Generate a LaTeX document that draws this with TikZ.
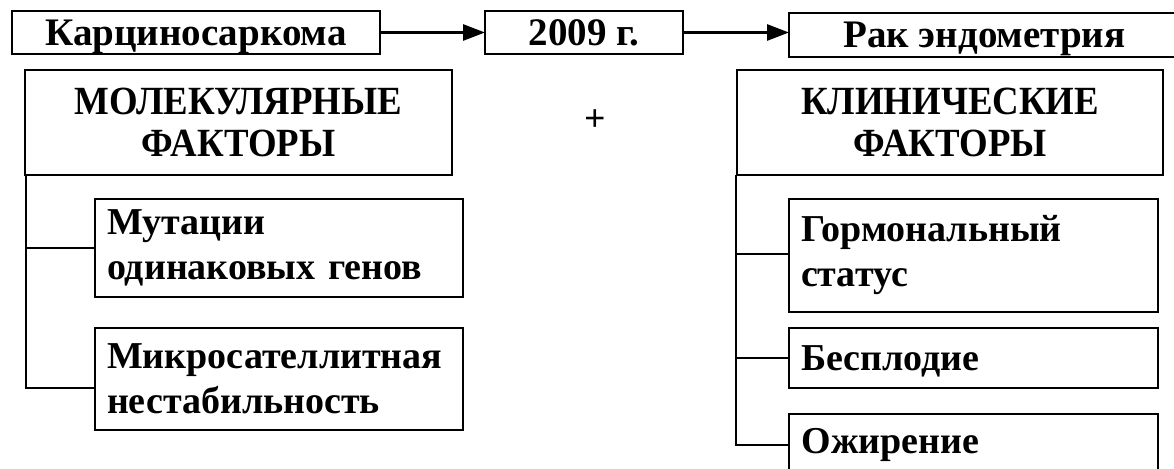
\documentclass[tikz,border=0pt]{standalone}
\usepackage{fontspec}
\setmainfont{Liberation Serif}
\newfontfamily\headfont{Liberation Serif}[FakeStretch=0.92]
\newfontfamily\plusfont{Liberation Sans}
\usetikzlibrary{arrows.meta}
\tikzset{
  every node/.style={inner sep=0pt, outer sep=0pt},
  topbox/.style={draw, line width=1.4pt, font=\fontsize{39}{44}\selectfont\bfseries, text height=26pt, text depth=0pt},
  headbox/.style={draw, line width=1.4pt, font=\headfont\fontsize{40}{42}\selectfont\bfseries, align=center},
  itembox/.style={draw, line width=1.4pt, font=\fontsize{38}{45}\selectfont\bfseries, align=left, inner xsep=12pt},
  conn/.style={line width=2.8pt},
  arr/.style={line width=2.8pt, -{Triangle[length=22pt,width=16pt]}}
}
\begin{document}
\begin{tikzpicture}[x=1pt,y=-1pt]
\useasboundingbox (0,0) rectangle (1174,468);
% top row
\node[topbox, minimum width=368pt, minimum height=43pt] (karc) at (196,32.5) {Карциносаркома};
\node[topbox, minimum width=198pt, minimum height=43pt] (y2009) at (584,32.5) {2009 г.};
\node[topbox, minimum width=391pt, minimum height=44pt] (rak) at (984.5,35) {Рак эндометрия};
\draw[arr] (karc.east) -- (y2009.west);
\draw[arr] (y2009.east) -- (y2009.east -| rak.west);
% headings
\node[headbox, minimum width=427pt, minimum height=105pt] (molek) at (238.5,122.5) {МОЛЕКУЛЯРНЫЕ\\ФАКТОРЫ};
\node[headbox, minimum width=426pt, minimum height=105pt] (klin) at (950,122.5) {КЛИНИЧЕСКИЕ\\ФАКТОРЫ};
\node[font=\plusfont\fontsize{36}{40}\selectfont] (plus) at (595,120) {+};
% left items
\node[itembox, text width=344pt, minimum height=98pt] (mut) at (279,248) {Мутации\\одинаковых генов};
\node[itembox, text width=344pt, minimum height=102pt] (micro) at (279,379) {Микросателлитная\\нестабильность};
% right items
\node[itembox, text width=345pt, minimum height=113pt] (horm) at (973.5,255.5) {Гормональный\\статус};
\node[itembox, text width=345pt, minimum height=60pt, text depth=0pt] (besp) at (973.5,358) {Бесплодие};
\node[itembox, text width=345pt, minimum height=62pt] (ozh) at (973.5,445) {Ожирение};
% connectors
\draw[conn] ([xshift=1pt]molek.south west) |- (mut.west);
\draw[conn] ([xshift=1pt]molek.south west) |- ([yshift=-9pt]micro.west);
\draw[conn] ([xshift=-1pt]klin.south west) |- ([yshift=1.5pt]horm.west);
\draw[conn] ([xshift=-1pt]klin.south west) |- (besp.west);
\draw[conn] ([xshift=-1pt]klin.south west) |- (ozh.west);
\end{tikzpicture}
\end{document}
